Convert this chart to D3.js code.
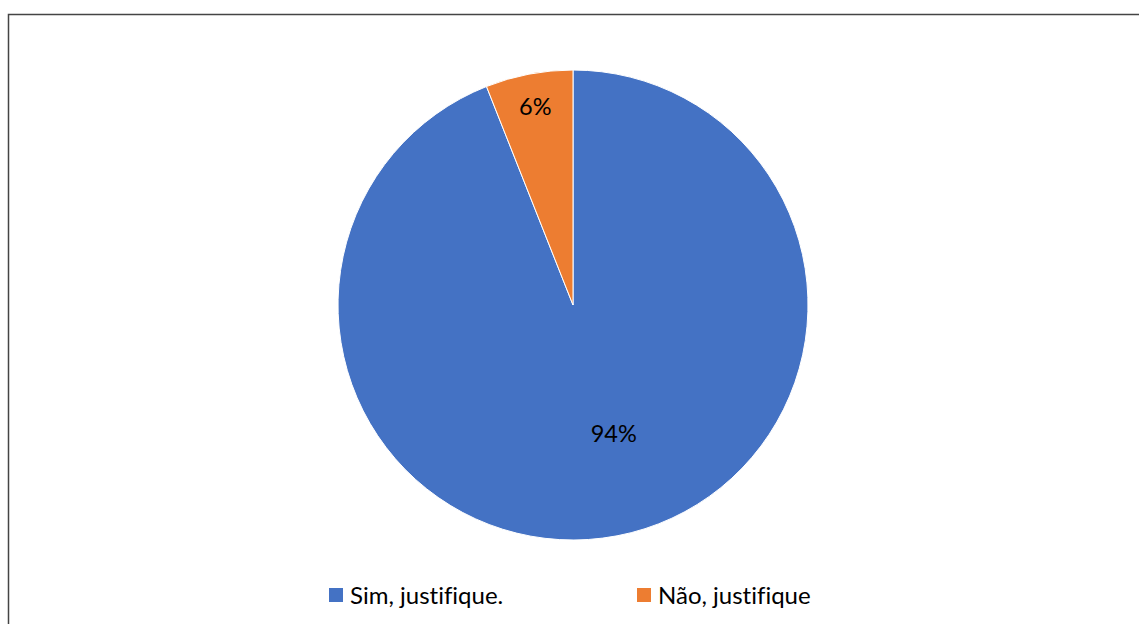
<!DOCTYPE html>
<html>
<head>
<meta charset="utf-8">
<script src="https://cdn.jsdelivr.net/npm/d3@7"></script>
<style>
  body { margin: 0; background: #fff; }
  svg { display: block; font-family: "Lato", "Liberation Sans", sans-serif; font-variant-ligatures: none; }
</style>
</head>
<body>
<div id="chart"></div>
<script>
// data
var categories = ["Sim, justifique.", "Não, justifique"];
var values = [94, 6];
var colors = ["#4472C4", "#ED7D31"];

var W = 1139, H = 624;
var cx = 573, cy = 305, radius = 235;

var svg = d3.select("#chart").append("svg")
  .attr("width", W)
  .attr("height", H);

// chart frame
svg.append("rect")
  .attr("x", 8.5).attr("y", 14.5)
  .attr("width", W + 10).attr("height", H + 10)
  .style("fill", "#fff")
  .style("stroke", "#444")
  .style("stroke-width", "1.5px");

var color = d3.scaleOrdinal().domain(categories).range(colors);

var pie = d3.pie().sort(null).value(function(d, i){ return values[i]; });
var arcs = pie(categories);

var arc = d3.arc().innerRadius(0).outerRadius(radius);

var g = svg.append("g").attr("transform", "translate(" + cx + "," + cy + ")");

g.selectAll("path.slice")
  .data(arcs)
  .enter()
  .append("path")
  .attr("class", "slice")
  .attr("d", arc)
  .style("fill", function(d){ return color(d.data); })
  .style("stroke", "#fff")
  .style("stroke-width", "1px");

// labels: small slices sit further out (like excel best fit)
g.selectAll("text.lbl")
  .data(arcs)
  .enter()
  .append("text")
  .attr("class", "lbl")
  .attr("transform", function(d){
    var big = (d.endAngle - d.startAngle) > Math.PI;
    var r = big ? radius * 0.575 : radius * 0.855;
    var a = d.startAngle + (d.endAngle - d.startAngle) * (big ? 0.48 : 0.5);
    return "translate(" + (Math.sin(a) * r) + "," + (-Math.cos(a) * r) + ")";
  })
  .attr("text-anchor", "middle")
  .attr("dy", "0.33em")
  .style("font-size", "23.5px")
  .style("fill", "#000")
  .text(function(d, i){ return values[i] + "%"; });

// legend
var legendX = [329, 637];
var legend = svg.selectAll("g.legend")
  .data(categories)
  .enter()
  .append("g")
  .attr("class", "legend")
  .attr("transform", function(d, i){ return "translate(" + legendX[i] + ",588)"; });

legend.append("rect")
  .attr("width", 14).attr("height", 14)
  .style("fill", function(d){ return color(d); });

legend.append("text")
  .attr("x", 21)
  .attr("y", 16)
  .style("font-size", "24px")
  .style("fill", "#000")
  .text(function(d){ return d; });
</script>
</body>
</html>
